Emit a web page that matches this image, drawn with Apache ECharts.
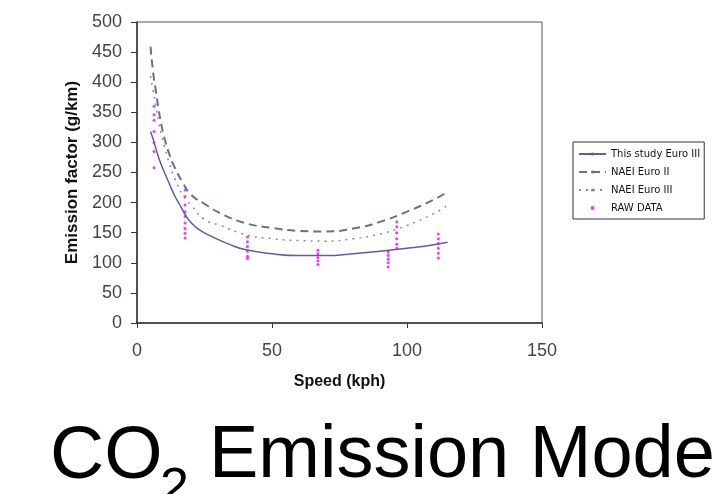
<!DOCTYPE html>
<html>
<head>
<meta charset="utf-8">
<script src="https://cdn.jsdelivr.net/npm/echarts@6/dist/echarts.min.js"></script>
<style>
  html, body { margin: 0; padding: 0; background: #fff; }
  #chart { width: 718px; height: 494px; }
</style>
</head>
<body>
<div id="chart"></div>
<script>
// speed (kph) / emission factor (g/km)
const studySpeed = [5, 6, 8, 10, 12, 14, 16, 18, 20, 23, 28, 34, 40, 50, 60, 70, 80, 90, 100, 110, 115];
const studyEuro3 = [318, 305, 275, 252, 231, 211, 195, 179, 167, 155, 143, 131, 122, 115, 112, 112, 115, 119, 124, 130, 134];

const naeiSpeed = [5, 6, 7, 8, 9, 10, 12, 14, 17, 20, 25, 31, 40, 50, 60, 70, 80, 90, 100, 110, 115];
const naeiEuro2 = [459, 415, 385, 355, 330, 310, 280, 258, 233, 213, 198, 182, 166, 158, 153, 152, 157, 168, 185, 205, 218];
const naeiEuro3 = [410, 385, 360, 335, 313, 295, 265, 240, 212, 196, 172, 162, 147, 140, 137, 136, 140, 148, 162, 182, 195];

const rawSpeed = [6.3, 17.8, 40.9, 67, 93, 96.2, 111.6];
const rawValues = [
  [360, 346, 337, 318, 300, 285, 258],
  [221, 210, 196, 185, 177, 166, 157, 149, 141],
  [143, 135, 127, 119, 111, 107],
  [121, 115, 109, 103, 97],
  [118, 112, 106, 100, 93],
  [168, 160, 150, 140, 131, 124],
  [148, 140, 132, 124, 116, 108]
];

const seriesNames = ["This study Euro III", "NAEI Euro II", "NAEI Euro III", "RAW DATA"];

function pairs(xs, ys) {
  return xs.map((x, i) => [x, ys[i]]);
}

let rawPoints = [];
rawSpeed.forEach((s, i) => {
  rawValues[i].forEach(v => rawPoints.push([s, v]));
});

let chart = echarts.init(document.getElementById("chart"));

chart.setOption({
  animation: false,
  grid: {
    left: 137,
    right: 176,
    top: 22,
    bottom: 171,
    show: true,
    borderColor: "#555",
    borderWidth: 1
  },
  legend: {
    orient: "vertical",
    left: 573,
    top: 142,
    padding: [7, 4, 6, 5],
    itemGap: 8,
    itemWidth: 27,
    itemHeight: 4,
    borderColor: "#333",
    borderWidth: 1,
    textStyle: {
      fontFamily: "DejaVu Sans",
      fontSize: 10,
      color: "#111"
    },
    data: [
      { name: seriesNames[0], icon: "inherit" },
      { name: seriesNames[1], icon: "inherit" },
      { name: seriesNames[2], icon: "inherit" },
      { name: seriesNames[3] }
    ]
  },
  xAxis: {
    type: "value",
    min: 0,
    max: 150,
    interval: 50,
    name: "Speed (kph)",
    nameLocation: "middle",
    nameGap: 51,
    nameTextStyle: {
      fontFamily: "Liberation Sans",
      fontWeight: "bold",
      fontSize: 16,
      color: "#111"
    },
    axisLine: { lineStyle: { color: "#333", width: 1.5 } },
    axisTick: { show: true, length: 5, lineStyle: { color: "#333" } },
    axisLabel: {
      margin: 19,
      fontFamily: "Liberation Sans",
      fontSize: 18,
      color: "#444"
    },
    splitLine: { show: false }
  },
  yAxis: {
    type: "value",
    min: 0,
    max: 500,
    interval: 50,
    name: "Emission factor (g/km)",
    nameLocation: "middle",
    nameGap: 56,
    nameTextStyle: {
      fontFamily: "Liberation Sans",
      fontWeight: "bold",
      fontSize: 17,
      color: "#111"
    },
    axisLine: { show: true, lineStyle: { color: "#333", width: 1.5 } },
    axisTick: { show: true, length: 6, lineStyle: { color: "#333" } },
    axisLabel: {
      margin: 15,
      fontFamily: "Liberation Sans",
      fontSize: 18,
      color: "#444"
    },
    splitLine: { show: false }
  },
  series: [
    {
      name: seriesNames[0],
      type: "line",
      smooth: true,
      symbol: "none",
      data: pairs(studySpeed, studyEuro3),
      lineStyle: { color: "#5b5bb5", width: 1.5 },
      itemStyle: { color: "#5b5bb5" }
    },
    {
      name: seriesNames[1],
      type: "line",
      smooth: true,
      symbol: "none",
      data: pairs(naeiSpeed, naeiEuro2),
      lineStyle: { color: "#5e7782", width: 2, type: [8, 5] },
      itemStyle: { color: "#5e7782" }
    },
    {
      name: seriesNames[2],
      type: "line",
      smooth: true,
      symbol: "none",
      data: pairs(naeiSpeed, naeiEuro3),
      lineStyle: { color: "#7d8f96", width: 1.5, type: [2, 5] },
      itemStyle: { color: "#7d8f96" }
    },
    {
      name: seriesNames[3],
      type: "scatter",
      symbol: "circle",
      symbolSize: 3,
      data: rawPoints,
      itemStyle: { color: "#ff00ff" }
    }
  ],
  graphic: [
    {
      type: "text",
      x: 50,
      y: 457,
      style: {
        text: "CO",
        font: '75px "Liberation Sans"',
        fill: "#000",
        verticalAlign: "middle"
      }
    },
    {
      type: "text",
      x: 160,
      y: 490,
      style: {
        text: "2",
        font: '52px "Liberation Sans"',
        fill: "#000",
        verticalAlign: "middle"
      }
    },
    {
      type: "text",
      x: 209,
      y: 457,
      style: {
        text: "Emission Mode",
        font: '74px "Liberation Sans"',
        fill: "#000",
        verticalAlign: "middle"
      }
    }
  ]
});
</script>
</body>
</html>
